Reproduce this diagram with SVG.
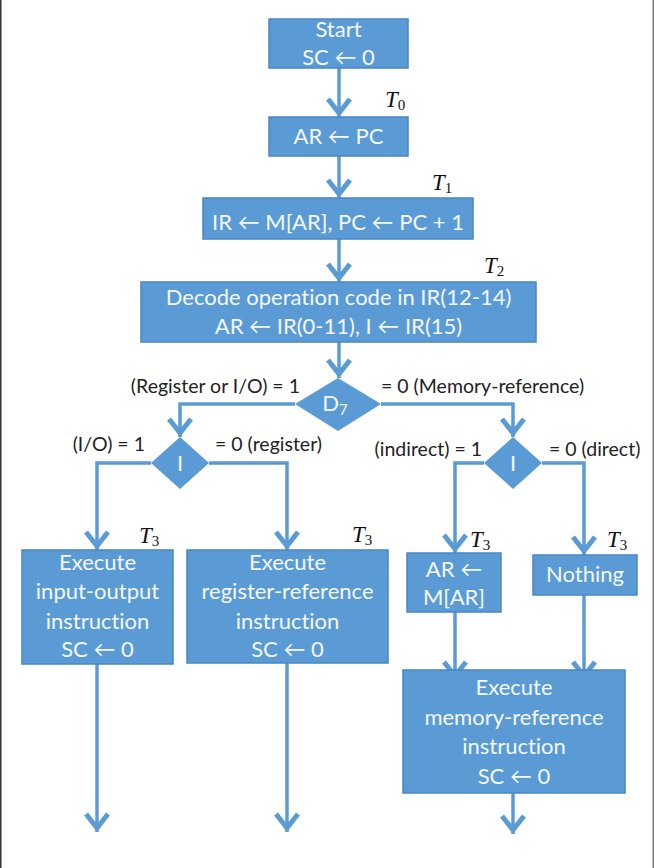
<svg xmlns="http://www.w3.org/2000/svg" width="654" height="868" viewBox="0 0 654 868">
<defs>
<marker id="arr" markerUnits="userSpaceOnUse" markerWidth="30" markerHeight="30" viewBox="0 0 30 30" refX="22" refY="15" orient="auto">
<path d="M4,4 L18,15 L4,26" fill="none" stroke="#5B9BD5" stroke-width="5"/>
</marker>
</defs>
<style>
.box{fill:#5B9BD5;stroke:#4A86C2;stroke-width:1.5}
.t{font-family:Lato,"Open Sans",sans-serif;font-size:22px;fill:#F4F8FC;text-anchor:middle;font-variant-ligatures:none}
.lbl{font-family:Lato,"Open Sans",sans-serif;font-size:19.5px;fill:#222;font-variant-ligatures:none}
.tm{font-family:"Liberation Serif",serif;font-size:23px;fill:#111;font-style:italic}
.sub{font-style:normal;font-size:15px}
.c{fill:none;stroke:#5B9BD5;stroke-width:3.5;marker-end:url(#arr)}
</style>
<rect width="654" height="868" fill="#ffffff"/>
<rect x="0" y="0" width="1.5" height="868" fill="#333"/>
<rect x="652.5" y="0" width="1.5" height="868" fill="#777"/>

<g id="connectors">
<path class="c" d="M339,68 V117"/>
<path class="c" d="M339,156 V198"/>
<path class="c" d="M339,239 V282"/>
<path class="c" d="M339,342 V378"/>
<path class="c" d="M295,404 H180 V437"/>
<path class="c" d="M381,404 H513 V437"/>
<path class="c" d="M151,463 H97 V550"/>
<path class="c" d="M209,463 H287 V550"/>
<path class="c" d="M484,463 H455 V553"/>
<path class="c" d="M542,463 H584 V555"/>
<path class="c" d="M455,612 V680"/>
<path class="c" d="M584,595 V680"/>
<path class="c" d="M97,664 V832"/>
<path class="c" d="M287,663 V832"/>
<path class="c" d="M513,793 V834"/>
</g>

<g id="start">
<rect class="box" x="269" y="19" width="139" height="49"/>
<text class="t" x="338.5" y="37">Start</text>
<text class="t" x="338.5" y="65">SC ← 0</text>
</g>
<g id="t0"><text class="tm" x="385" y="107">T<tspan class="sub" dy="3">0</tspan></text></g>

<g id="arpc">
<rect class="box" x="269" y="117" width="139" height="39"/>
<text class="t" x="338.5" y="144">AR ← PC</text>
</g>
<g id="t1"><text class="tm" x="432" y="190">T<tspan class="sub" dy="3">1</tspan></text></g>

<g id="fetch">
<rect class="box" x="203" y="198" width="270" height="41"/>
<text class="t" x="338" y="230">IR ← M[AR], PC ← PC + 1</text>
</g>
<g id="t2"><text class="tm" x="484" y="273">T<tspan class="sub" dy="3">2</tspan></text></g>

<g id="decode">
<rect class="box" x="141" y="282" width="395" height="60"/>
<text class="t" x="338.5" y="305">Decode operation code in IR(12-14)</text>
<text class="t" x="338.5" y="334">AR ← IR(0-11), I ← IR(15)</text>
</g>

<g id="d7">
<polygon class="box" points="338,378 381,404 338,431 295,404" style="stroke:none"/>
<text class="t" x="335" y="411">D<tspan font-size="15" dy="4">7</tspan></text>
</g>
<text class="lbl" x="300" y="393" text-anchor="end">(Register or I/O) = 1</text>
<text class="lbl" x="381" y="393">= 0 (Memory-reference)</text>

<g id="i_left">
<polygon class="box" points="180,437 209,463 180,489 151,463" style="stroke:none"/>
<text class="t" x="180" y="471">I</text>
</g>
<text class="lbl" x="145" y="451" text-anchor="end">(I/O) = 1</text>
<text class="lbl" x="215" y="451">= 0 (register)</text>

<g id="i_right">
<polygon class="box" points="513,437 542,463 513,489 484,463" style="stroke:none"/>
<text class="t" x="513" y="471">I</text>
</g>
<text class="lbl" x="482" y="456" text-anchor="end">(indirect) = 1</text>
<text class="lbl" x="549" y="456">= 0 (direct)</text>

<g id="io">
<rect class="box" x="22" y="550" width="151" height="114"/>
<text class="t" x="97.5" y="570">Execute</text>
<text class="t" x="97.5" y="599">input-output</text>
<text class="t" x="97.5" y="629">instruction</text>
<text class="t" x="97.5" y="657">SC ← 0</text>
</g>
<g id="t3a"><text class="tm" x="139" y="543">T<tspan class="sub" dy="3">3</tspan></text></g>

<g id="regref">
<rect class="box" x="187" y="550" width="201" height="113"/>
<text class="t" x="287.5" y="570">Execute</text>
<text class="t" x="287.5" y="599">register-reference</text>
<text class="t" x="287.5" y="629">instruction</text>
<text class="t" x="287.5" y="657">SC ← 0</text>
</g>
<g id="t3b"><text class="tm" x="352" y="542">T<tspan class="sub" dy="3">3</tspan></text></g>

<g id="indirect">
<rect class="box" x="407" y="553" width="94" height="59"/>
<text class="t" x="454" y="577">AR ←</text>
<text class="t" x="454" y="605">M[AR]</text>
</g>
<g id="t3c"><text class="tm" x="470" y="547">T<tspan class="sub" dy="3">3</tspan></text></g>

<g id="nothing">
<rect class="box" x="533" y="555" width="104" height="40"/>
<text class="t" x="585" y="582">Nothing</text>
</g>
<g id="t3d"><text class="tm" x="607" y="547">T<tspan class="sub" dy="3">3</tspan></text></g>

<g id="memref">
<rect class="box" x="403" y="670" width="222" height="123"/>
<text class="t" x="514" y="695">Execute</text>
<text class="t" x="514" y="725">memory-reference</text>
<text class="t" x="514" y="754">instruction</text>
<text class="t" x="514" y="784">SC ← 0</text>
</g>
</svg>
